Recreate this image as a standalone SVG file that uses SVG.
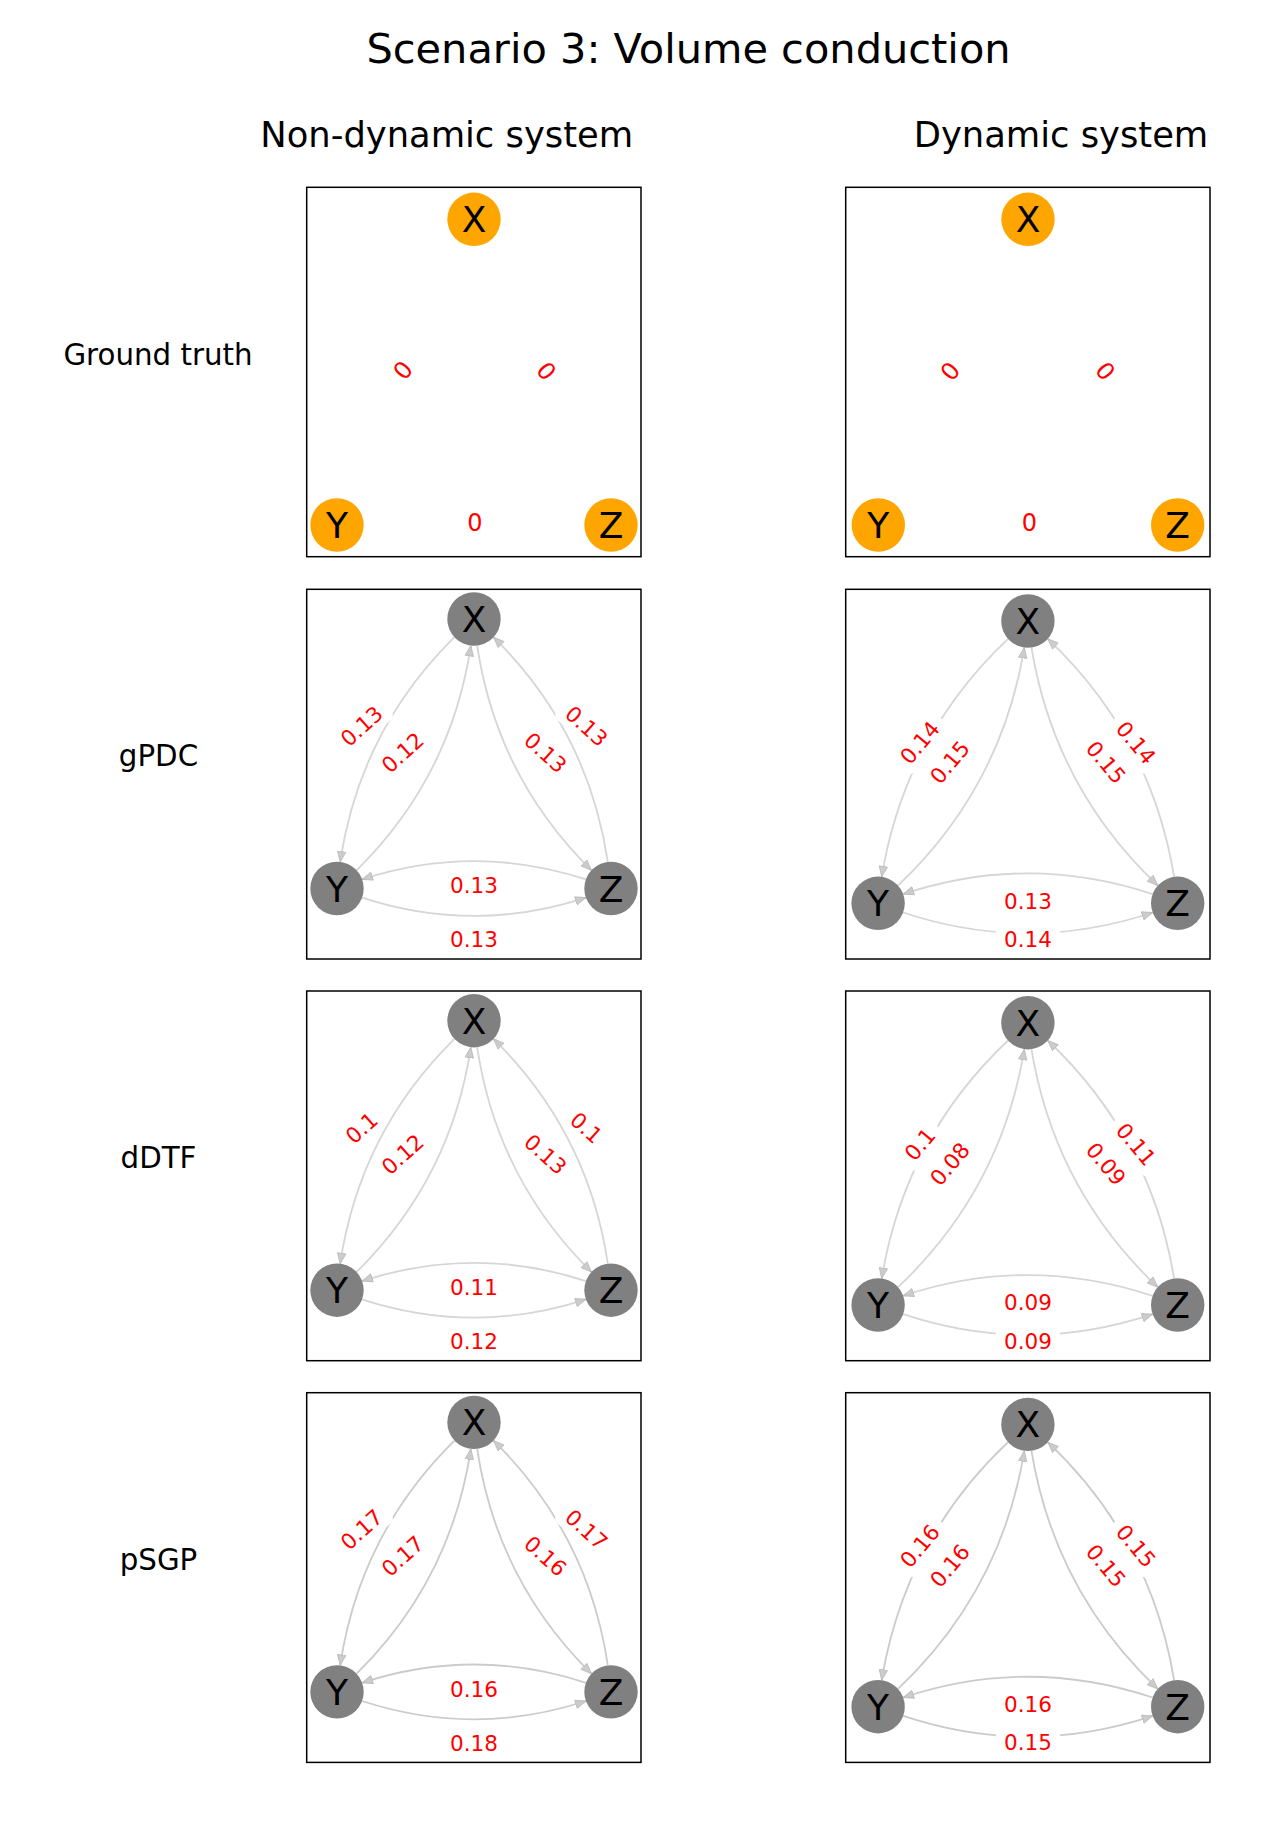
<svg xmlns="http://www.w3.org/2000/svg" width="1270" height="1824" viewBox="0 0 1270 1824">
<defs>
<style>
text{font-family:"DejaVu Sans","Liberation Sans",sans-serif}
.title{font-size:41.5px;text-anchor:middle;fill:#000}
.ctitle{font-size:35.3px;text-anchor:middle;fill:#000}
.rlab{font-size:29.3px;text-anchor:middle;fill:#000}
.box{fill:none;stroke:#000;stroke-width:1.5}
.nd circle{fill:#808080}
.gt circle{fill:#ffa500}
.nd text{font-size:36px;text-anchor:middle;fill:#000}
.el text{font-size:21.5px;text-anchor:middle;fill:#ff0000}
.el rect{fill:#fff}
.gl text{font-size:24px;text-anchor:middle;fill:#ff0000}
.edge path{fill:none;stroke:#d6d6d6;stroke-width:1.8;marker-end:url(#ah)}
.edge.dk path{stroke:#cbcbcb}
</style>
<marker id="ah" markerUnits="userSpaceOnUse" markerWidth="12" markerHeight="10" refX="11" refY="5" orient="auto" viewBox="0 0 12 10">
<path d="M0.5,0.8 L11,5 L0.5,9.2 z" fill="#cccccc" stroke="#b8b8b8" stroke-width="0.8"/>
</marker>
</defs>
<rect width="1270" height="1824" fill="#fff"/>

<text class="title" x="688.5" y="63">Scenario 3: Volume conduction</text>
<text class="ctitle" x="446.7" y="147">Non-dynamic system</text>
<text class="ctitle" x="1061" y="147">Dynamic system</text>

<text class="rlab" x="158" y="365">Ground truth</text>
<text class="rlab" x="158.5" y="766">gPDC</text>
<text class="rlab" x="158.5" y="1168">dDTF</text>
<text class="rlab" x="158.5" y="1569.5">pSGP</text>

<!-- Ground truth, non-dynamic -->
<g id="gt-nd">
<rect class="box" x="306.7" y="187.3" width="334.3" height="369.4"/>
<g class="gl">
<text transform="translate(402.7,370) rotate(-50)" y="8.7">0</text>
<text transform="translate(546.7,371) rotate(50)" y="8.7">0</text>
<text x="475" y="530.7">0</text>
</g>
<g id="gt-nd-X" class="nd gt"><circle cx="474" cy="219.3" r="26.7"/><text x="474" y="232.3">X</text></g>
<g id="gt-nd-Y" class="nd gt"><circle cx="337" cy="525" r="26.7"/><text x="337" y="538">Y</text></g>
<g id="gt-nd-Z" class="nd gt"><circle cx="611" cy="525" r="26.7"/><text x="611" y="538">Z</text></g>
</g>

<!-- Ground truth, dynamic -->
<g id="gt-d">
<rect class="box" x="845.7" y="187.3" width="364.3" height="369.4"/>
<g class="gl">
<text transform="translate(950,371) rotate(-50)" y="8.7">0</text>
<text transform="translate(1105.7,371) rotate(50)" y="8.7">0</text>
<text x="1029.3" y="531">0</text>
</g>
<g id="gt-d-X" class="nd gt"><circle cx="1028" cy="219.3" r="26.7"/><text x="1028" y="232.3">X</text></g>
<g id="gt-d-Y" class="nd gt"><circle cx="878.3" cy="525" r="26.7"/><text x="878.3" y="538">Y</text></g>
<g id="gt-d-Z" class="nd gt"><circle cx="1177.7" cy="525" r="26.7"/><text x="1177.7" y="538">Z</text></g>
</g>

<!-- gPDC, non-dynamic -->
<g id="gpdc-nd">
<rect class="box" x="306.7" y="589.3" width="334.3" height="369.7"/>
<g id="gpdc-nd-edges" class="edge">
<path d="M454.45,637.17 Q359.80,730.51 340.16,861.99"/>
<path d="M356.56,870.32 Q451.20,776.98 470.85,645.50"/>
<path d="M477.17,645.50 Q496.79,776.98 591.45,870.32"/>
<path d="M607.84,861.99 Q588.20,730.51 493.56,637.17"/>
<path d="M362.07,897.61 Q474,934.19 585.93,897.61"/>
<path d="M585.93,879.39 Q474,842.81 362.07,879.39"/>
</g>
<g class="el">
<g transform="translate(361.5,726) rotate(-42)"><rect x="-32" y="-15" width="64" height="30" rx="6"/><text y="7.8">0.13</text></g>
<g transform="translate(402.5,752.5) rotate(-42)"><rect x="-32" y="-15" width="64" height="30" rx="6"/><text y="7.8">0.12</text></g>
<g transform="translate(545.5,752.5) rotate(42)"><rect x="-32" y="-15" width="64" height="30" rx="6"/><text y="7.8">0.13</text></g>
<g transform="translate(586.5,726) rotate(42)"><rect x="-32" y="-15" width="64" height="30" rx="6"/><text y="7.8">0.13</text></g>
<g transform="translate(474,885.5)"><rect x="-32" y="-15" width="64" height="30" rx="6"/><text y="7.8">0.13</text></g>
<g transform="translate(474,939.5)"><rect x="-32" y="-15" width="64" height="30" rx="6"/><text y="7.8">0.13</text></g>
</g>
<g id="gpdc-nd-X" class="nd"><circle cx="474" cy="619" r="26.7"/><text x="474" y="632">X</text></g>
<g id="gpdc-nd-Y" class="nd"><circle cx="337" cy="888.5" r="26.7"/><text x="337" y="901.5">Y</text></g>
<g id="gpdc-nd-Z" class="nd"><circle cx="611" cy="888.5" r="26.7"/><text x="611" y="901.5">Z</text></g>
</g>

<!-- gPDC, dynamic -->
<g id="gpdc-d">
<rect class="box" x="845.7" y="589.3" width="364.3" height="369.7"/>
<g id="gpdc-d-edges" class="edge">
<path d="M1008.01,638.82 Q904.70,736.52 881.69,876.85"/>
<path d="M898.01,885.51 Q1001.30,787.78 1024.33,647.48"/>
<path d="M1031.47,647.48 Q1054.50,787.78 1157.79,885.51"/>
<path d="M1174.11,876.85 Q1151.10,736.52 1047.79,638.82"/>
<path d="M903.19,912.50 Q1027.9,954.05 1152.61,912.50"/>
<path d="M1152.61,894.12 Q1027.9,852.59 903.19,894.12"/>
</g>
<g class="el">
<g transform="translate(919.7,742.5) rotate(-50)"><rect x="-32" y="-15" width="64" height="30" rx="6"/><text y="7.8">0.14</text></g>
<g transform="translate(949.6,762.2) rotate(-50)"><rect x="-32" y="-15" width="64" height="30" rx="6"/><text y="7.8">0.15</text></g>
<g transform="translate(1106.2,762.2) rotate(50)"><rect x="-32" y="-15" width="64" height="30" rx="6"/><text y="7.8">0.15</text></g>
<g transform="translate(1136.1,742.5) rotate(50)"><rect x="-32" y="-15" width="64" height="30" rx="6"/><text y="7.8">0.14</text></g>
<g transform="translate(1027.9,900.7)"><rect x="-32" y="-15" width="64" height="30" rx="6"/><text y="7.8">0.13</text></g>
<g transform="translate(1027.9,939)"><rect x="-32" y="-15" width="64" height="30" rx="6"/><text y="7.8">0.14</text></g>
</g>
<g id="gpdc-d-X" class="nd"><circle cx="1027.9" cy="621" r="26.7"/><text x="1027.9" y="634">X</text></g>
<g id="gpdc-d-Y" class="nd"><circle cx="878.1" cy="903.3" r="26.7"/><text x="878.1" y="916.3">Y</text></g>
<g id="gpdc-d-Z" class="nd"><circle cx="1177.7" cy="903.3" r="26.7"/><text x="1177.7" y="916.3">Z</text></g>
</g>

<!-- dDTF, non-dynamic -->
<g id="ddtf-nd" transform="translate(0,401.7)">
<rect class="box" x="306.7" y="589.3" width="334.3" height="369.7"/>
<g id="ddtf-nd-edges" class="edge">
<path d="M454.45,637.17 Q359.80,730.51 340.16,861.99"/>
<path d="M356.56,870.32 Q451.20,776.98 470.85,645.50"/>
<path d="M477.17,645.50 Q496.79,776.98 591.45,870.32"/>
<path d="M607.84,861.99 Q588.20,730.51 493.56,637.17"/>
<path d="M362.07,897.61 Q474,934.19 585.93,897.61"/>
<path d="M585.93,879.39 Q474,842.81 362.07,879.39"/>
</g>
<g class="el">
<g transform="translate(361.5,726) rotate(-42)"><rect x="-25" y="-15" width="50" height="30" rx="6"/><text y="7.8">0.1</text></g>
<g transform="translate(402.5,752.5) rotate(-42)"><rect x="-32" y="-15" width="64" height="30" rx="6"/><text y="7.8">0.12</text></g>
<g transform="translate(545.5,752.5) rotate(42)"><rect x="-32" y="-15" width="64" height="30" rx="6"/><text y="7.8">0.13</text></g>
<g transform="translate(586.5,726) rotate(42)"><rect x="-25" y="-15" width="50" height="30" rx="6"/><text y="7.8">0.1</text></g>
<g transform="translate(474,885.5)"><rect x="-32" y="-15" width="64" height="30" rx="6"/><text y="7.8">0.11</text></g>
<g transform="translate(474,939.5)"><rect x="-32" y="-15" width="64" height="30" rx="6"/><text y="7.8">0.12</text></g>
</g>
<g id="ddtf-nd-X" class="nd"><circle cx="474" cy="619" r="26.7"/><text x="474" y="632">X</text></g>
<g id="ddtf-nd-Y" class="nd"><circle cx="337" cy="888.5" r="26.7"/><text x="337" y="901.5">Y</text></g>
<g id="ddtf-nd-Z" class="nd"><circle cx="611" cy="888.5" r="26.7"/><text x="611" y="901.5">Z</text></g>
</g>

<!-- dDTF, dynamic -->
<g id="ddtf-d" transform="translate(0,401.7)">
<rect class="box" x="845.7" y="589.3" width="364.3" height="369.7"/>
<g id="ddtf-d-edges" class="edge">
<path d="M1008.01,638.82 Q904.70,736.52 881.69,876.85"/>
<path d="M898.01,885.51 Q1001.30,787.78 1024.33,647.48"/>
<path d="M1031.47,647.48 Q1054.50,787.78 1157.79,885.51"/>
<path d="M1174.11,876.85 Q1151.10,736.52 1047.79,638.82"/>
<path d="M903.19,912.50 Q1027.9,954.05 1152.61,912.50"/>
<path d="M1152.61,894.12 Q1027.9,852.59 903.19,894.12"/>
</g>
<g class="el">
<g transform="translate(919.7,742.5) rotate(-50)"><rect x="-25" y="-15" width="50" height="30" rx="6"/><text y="7.8">0.1</text></g>
<g transform="translate(949.6,762.2) rotate(-50)"><rect x="-32" y="-15" width="64" height="30" rx="6"/><text y="7.8">0.08</text></g>
<g transform="translate(1106.2,762.2) rotate(50)"><rect x="-32" y="-15" width="64" height="30" rx="6"/><text y="7.8">0.09</text></g>
<g transform="translate(1136.1,742.5) rotate(50)"><rect x="-32" y="-15" width="64" height="30" rx="6"/><text y="7.8">0.11</text></g>
<g transform="translate(1027.9,900.7)"><rect x="-32" y="-15" width="64" height="30" rx="6"/><text y="7.8">0.09</text></g>
<g transform="translate(1027.9,939)"><rect x="-32" y="-15" width="64" height="30" rx="6"/><text y="7.8">0.09</text></g>
</g>
<g id="ddtf-d-X" class="nd"><circle cx="1027.9" cy="621" r="26.7"/><text x="1027.9" y="634">X</text></g>
<g id="ddtf-d-Y" class="nd"><circle cx="878.1" cy="903.3" r="26.7"/><text x="878.1" y="916.3">Y</text></g>
<g id="ddtf-d-Z" class="nd"><circle cx="1177.7" cy="903.3" r="26.7"/><text x="1177.7" y="916.3">Z</text></g>
</g>

<!-- pSGP, non-dynamic -->
<g id="psgp-nd" transform="translate(0,803.4)">
<rect class="box" x="306.7" y="589.3" width="334.3" height="369.7"/>
<g id="psgp-nd-edges" class="edge dk">
<path d="M454.45,637.17 Q359.80,730.51 340.16,861.99"/>
<path d="M356.56,870.32 Q451.20,776.98 470.85,645.50"/>
<path d="M477.17,645.50 Q496.79,776.98 591.45,870.32"/>
<path d="M607.84,861.99 Q588.20,730.51 493.56,637.17"/>
<path d="M362.07,897.61 Q474,934.19 585.93,897.61"/>
<path d="M585.93,879.39 Q474,842.81 362.07,879.39"/>
</g>
<g class="el">
<g transform="translate(361.5,726) rotate(-42)"><rect x="-32" y="-15" width="64" height="30" rx="6"/><text y="7.8">0.17</text></g>
<g transform="translate(402.5,752.5) rotate(-42)"><rect x="-32" y="-15" width="64" height="30" rx="6"/><text y="7.8">0.17</text></g>
<g transform="translate(545.5,752.5) rotate(42)"><rect x="-32" y="-15" width="64" height="30" rx="6"/><text y="7.8">0.16</text></g>
<g transform="translate(586.5,726) rotate(42)"><rect x="-32" y="-15" width="64" height="30" rx="6"/><text y="7.8">0.17</text></g>
<g transform="translate(474,885.5)"><rect x="-32" y="-15" width="64" height="30" rx="6"/><text y="7.8">0.16</text></g>
<g transform="translate(474,939.5)"><rect x="-32" y="-15" width="64" height="30" rx="6"/><text y="7.8">0.18</text></g>
</g>
<g id="psgp-nd-X" class="nd"><circle cx="474" cy="619" r="26.7"/><text x="474" y="632">X</text></g>
<g id="psgp-nd-Y" class="nd"><circle cx="337" cy="888.5" r="26.7"/><text x="337" y="901.5">Y</text></g>
<g id="psgp-nd-Z" class="nd"><circle cx="611" cy="888.5" r="26.7"/><text x="611" y="901.5">Z</text></g>
</g>

<!-- pSGP, dynamic -->
<g id="psgp-d" transform="translate(0,803.4)">
<rect class="box" x="845.7" y="589.3" width="364.3" height="369.7"/>
<g id="psgp-d-edges" class="edge dk">
<path d="M1008.01,638.82 Q904.70,736.52 881.69,876.85"/>
<path d="M898.01,885.51 Q1001.30,787.78 1024.33,647.48"/>
<path d="M1031.47,647.48 Q1054.50,787.78 1157.79,885.51"/>
<path d="M1174.11,876.85 Q1151.10,736.52 1047.79,638.82"/>
<path d="M903.19,912.50 Q1027.9,954.05 1152.61,912.50"/>
<path d="M1152.61,894.12 Q1027.9,852.59 903.19,894.12"/>
</g>
<g class="el">
<g transform="translate(919.7,742.5) rotate(-50)"><rect x="-32" y="-15" width="64" height="30" rx="6"/><text y="7.8">0.16</text></g>
<g transform="translate(949.6,762.2) rotate(-50)"><rect x="-32" y="-15" width="64" height="30" rx="6"/><text y="7.8">0.16</text></g>
<g transform="translate(1106.2,762.2) rotate(50)"><rect x="-32" y="-15" width="64" height="30" rx="6"/><text y="7.8">0.15</text></g>
<g transform="translate(1136.1,742.5) rotate(50)"><rect x="-32" y="-15" width="64" height="30" rx="6"/><text y="7.8">0.15</text></g>
<g transform="translate(1027.9,900.7)"><rect x="-32" y="-15" width="64" height="30" rx="6"/><text y="7.8">0.16</text></g>
<g transform="translate(1027.9,939)"><rect x="-32" y="-15" width="64" height="30" rx="6"/><text y="7.8">0.15</text></g>
</g>
<g id="psgp-d-X" class="nd"><circle cx="1027.9" cy="621" r="26.7"/><text x="1027.9" y="634">X</text></g>
<g id="psgp-d-Y" class="nd"><circle cx="878.1" cy="903.3" r="26.7"/><text x="878.1" y="916.3">Y</text></g>
<g id="psgp-d-Z" class="nd"><circle cx="1177.7" cy="903.3" r="26.7"/><text x="1177.7" y="916.3">Z</text></g>
</g>
</svg>
